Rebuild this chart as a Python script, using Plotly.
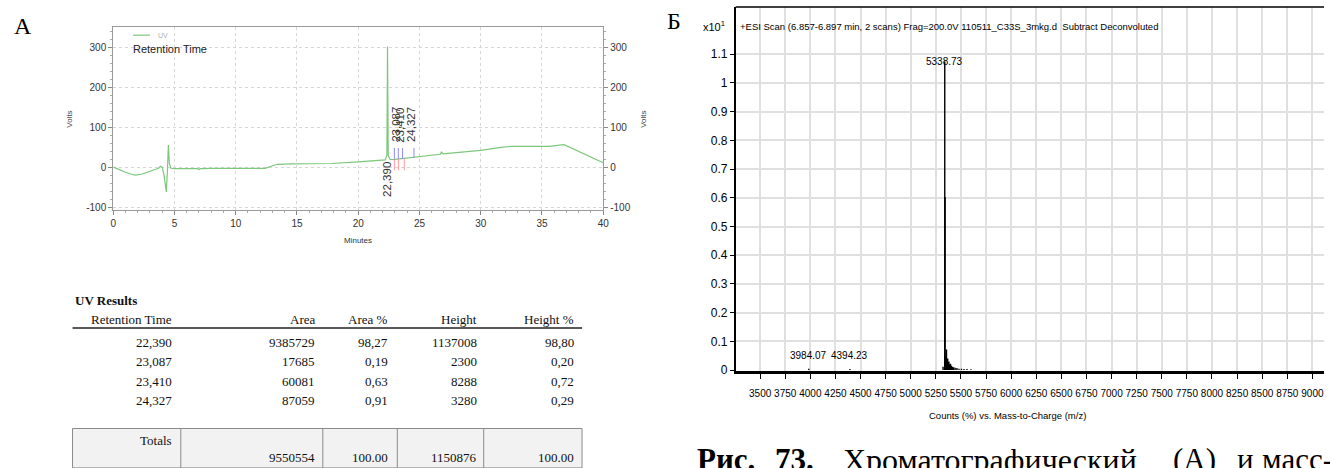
import plotly.graph_objects as go

W, H = 1330, 468


def fx(p):
    """pixel column -> paper x"""
    return p / W


def fy(p):
    """pixel row -> paper y"""
    return 1 - p / H


# ---------------- Panel A: UV chromatogram ----------------
uv_time = [0, 0.5, 1.0, 1.5, 1.8, 2.3, 2.8, 3.3, 3.7, 3.85,
           4.0, 4.15, 4.33, 4.42, 4.5, 4.58, 4.7, 5.0, 6.0, 6.9,
           7.0, 7.1, 8.0, 10.0, 12.4, 12.9, 13.4, 14.5, 16.0, 17.8,
           20.0, 21.5, 22.2, 22.34, 22.39, 22.45, 22.6, 23.0, 24.5, 26.0,
           26.7, 26.8, 26.9, 28.0, 30.0, 31.8, 32.6, 34.2, 35.6, 36.8,
           38.0, 39.0, 40.0]
uv_volts = [1, -6, -12, -17, -19, -17, -11, -6, -2, 3,
            0, -20, -61, -10, 56, 10, -2, -3, -3, -3,
            -5, -3, -2, -2, -2, 3, 8, 9, 9, 10,
            14, 17, 19, 30, 303, 30, 20, 20.5, 25, 30,
            33, 39, 34, 37, 43, 51, 53, 53, 53, 57,
            40, 26, 12]

peak_rt = [22.390, 23.087, 23.410, 24.327]
peak_rt_text = ["22,390", "23,087", "23,410", "24,327"]

# integration start (blue) / end (red) markers
start_rt = [22.95, 23.27, 23.62, 24.55]
start_base = [20, 20.5, 21, 24]
start_top = 49
end_rt = [22.95, 23.28, 23.76]
end_base = [20, 20.5, 21]
end_bottom = -7

# ---------------- UV results table ----------------
table_headers = ["Retention Time", "Area", "Area %", "Height", "Height %"]
rt_col = ["22,390", "23,087", "23,410", "24,327"]
area_col = ["9385729", "17685", "60081", "87059"]
area_pct_col = ["98,27", "0,19", "0,63", "0,91"]
height_col = ["1137008", "2300", "8288", "3280"]
height_pct_col = ["98,80", "0,20", "0,72", "0,29"]
totals_row = ["9550554", "100.00", "1150876", "100.00"]

# ---------------- Panel Б: deconvoluted mass spectrum ----------------
ms_mz = [3984.07, 4394.23, 5322, 5338.73, 5342, 5348, 5352, 5356, 5362, 5368,
         5374, 5380, 5388, 5396, 5405, 5415, 5428, 5442, 5460, 5480,
         5505, 5530, 5560, 5600]
ms_counts = [0.005, 0.004, 0.012, 1.075, 0.603, 0.05, 0.035, 0.072, 0.03, 0.04,
             0.028, 0.03, 0.02, 0.022, 0.015, 0.012, 0.01, 0.008, 0.007, 0.005,
             0.005, 0.004, 0.004, 0.003]
ms_labelled = [5338.73, 3984.07, 4394.23]
ms_yticks = [0, 0.1, 0.2, 0.3, 0.4, 0.5, 0.6, 0.7, 0.8, 0.9, 1.0, 1.1]
ms_ytick_text = ["0", "0.1", "0.2", "0.3", "0.4", "0.5", "0.6", "0.7", "0.8",
                 "0.9", "1", "1.1"]
ms_title = ("+ESI Scan (6.857-6.897 min, 2 scans) Frag=200.0V "
            "110511_C33S_3mkg.d\u00a0 Subtract Deconvoluted")

SANS = "Liberation Sans, Arial, sans-serif"
NARROW = "Liberation Sans Narrow, Arial Narrow, Liberation Sans, sans-serif"
SERIF = "Liberation Serif, Times New Roman, serif"
GREEN = "#7cc77c"

fig = go.Figure()

# chromatogram trace (left axis) and a copy on the right axis
fig.add_trace(go.Scatter(x=uv_time, y=uv_volts, mode="lines",
                         line=dict(color=GREEN, width=1.2),
                         xaxis="x", yaxis="y", hoverinfo="skip", showlegend=False))
fig.add_trace(go.Scatter(x=uv_time, y=uv_volts, mode="lines",
                         line=dict(color="rgba(0,0,0,0)", width=0),
                         xaxis="x", yaxis="y2", hoverinfo="skip", showlegend=False))

# integration markers
bx, by = [], []
for t, b in zip(start_rt, start_base):
    bx += [t, t, None]
    by += [b, start_top, None]
fig.add_trace(go.Scatter(x=bx, y=by, mode="lines", line=dict(color="#8c8cff", width=1),
                         xaxis="x", yaxis="y", hoverinfo="skip", showlegend=False))
rx, ry = [], []
for t, b in zip(end_rt, end_base):
    rx += [t, t, None]
    ry += [b, end_bottom, None]
fig.add_trace(go.Scatter(x=rx, y=ry, mode="lines", line=dict(color="#ff9a9a", width=1),
                         xaxis="x", yaxis="y", hoverinfo="skip", showlegend=False))

# mass spectrum sticks
sx, sy = [], []
for m, c in zip(ms_mz, ms_counts):
    sx += [m, m, None]
    sy += [0, c, None]
fig.add_trace(go.Scatter(x=sx, y=sy, mode="lines", line=dict(color="black", width=1.4),
                         xaxis="x2", yaxis="y3", hoverinfo="skip", showlegend=False))

annotations = []


def note(text, x, y, size, family=SANS, color="#222", xanchor="center",
         yanchor="middle", xref="paper", yref="paper", angle=0, **kw):
    annotations.append(dict(text=text, x=x, y=y, xref=xref, yref=yref,
                            xanchor=xanchor, yanchor=yanchor, showarrow=False,
                            textangle=angle, font=dict(family=family, size=size, color=color),
                            **kw))


# panel letters
note("A", fx(9), fy(26), 24, SERIF, "black", xanchor="left")
note("Б", fx(667), fy(21), 24, SERIF, "black", xanchor="left")

# chromatogram legend and labels
note("UV", fx(154), fy(35.7), 7, SANS, "#b0b0b0", xanchor="left")
note("Retention Time", fx(129), fy(50), 11, SANS, "#222", xanchor="left")
note("Minutes", fx(357.5), fy(244), 8, SANS, "#333")
note("Volts", fx(67), fy(121), 8, SANS, "#444", angle=-90)
note("Volts", fx(645), fy(121), 8, SANS, "#444", angle=-90)

for t, txt in zip(peak_rt, peak_rt_text):
    if txt == "22,390":
        note(txt, t, 19, 11.5, SANS, "#333", xref="x", yref="y", angle=-90,
             yanchor="top")
    else:
        note(txt, t, 58, 11.5, SANS, "#333", xref="x", yref="y", angle=-90,
             yanchor="bottom")

# table
note("<b>UV Results</b>", fx(70), fy(305), 13, SERIF, "#111", xanchor="left")
col_right = [172, 316, 390, 479, 577]
for cx, h in zip(col_right, table_headers):
    note(h, fx(cx), fy(324.5), 13, SERIF, "#111", xanchor="right")
row_y = [347.5, 367.2, 387, 406.8]
columns = [rt_col, area_col, area_pct_col, height_col, height_pct_col]
for cx, col in zip(col_right, columns):
    for ry_, val in zip(row_y, col):
        note(val, fx(cx), fy(ry_), 13, SERIF, "#111", xanchor="right")
note("Totals", fx(col_right[0]), fy(447), 13, SERIF, "#111", xanchor="right")
for cx, val in zip(col_right[1:], totals_row):
    note(val, fx(cx), fy(464), 13, SERIF, "#111", xanchor="right")

# mass spectrum texts
note("x10<sup>1</sup>", fx(703), fy(26), 11, NARROW, "black", xanchor="left")
note(ms_title, fx(740), fy(27), 9.5, NARROW, "black", xanchor="left")
for m in ms_labelled:
    c = ms_counts[ms_mz.index(m)]
    if m == 5338.73:
        note(f"{m:.2f}", m, c, 10, NARROW, "black", xref="x2", yref="y3")
    else:
        note(f"{m:.2f}", m, 0.05, 10, NARROW, "black", xref="x2", yref="y3")
note("Counts (%) vs. Mass-to-Charge (m/z)", fx(1011), fy(421.5), 9.5, NARROW, "black")

# figure caption (runs off the bottom edge)
cap_top = 447
note("<b>Рис.</b>", fx(697), fy(cap_top), 31, SERIF, "black", xanchor="left", yanchor="top")
note("<b>73.</b>", fx(775), fy(cap_top), 31, SERIF, "black", xanchor="left", yanchor="top")
note("Хроматографический", fx(844), fy(cap_top), 32, SERIF, "black", xanchor="left", yanchor="top")
note("(А)", fx(1176), fy(cap_top), 31, SERIF, "black", xanchor="left", yanchor="top")
note("и", fx(1240), fy(cap_top), 31, SERIF, "black", xanchor="left", yanchor="top")
note("масс-", fx(1266), fy(cap_top), 31, SERIF, "black", xanchor="left", yanchor="top")

shapes = [
    # legend line sample
    dict(type="line", xref="paper", yref="paper", x0=fx(131), x1=fx(148),
         y0=fy(35.7), y1=fy(35.7), line=dict(color=GREEN, width=1.2)),
    # header rule
    dict(type="line", xref="paper", yref="paper", x0=fx(70), x1=fx(583),
         y0=fy(333), y1=fy(333), line=dict(color="#222", width=1.6)),
    # totals box
    dict(type="rect", xref="paper", yref="paper", x0=fx(70), x1=fx(583),
         y0=fy(475), y1=fy(435), fillcolor="#f2f2f2", line=dict(color="#8a8a8a", width=1),
         layer="below"),
    # spectrum top frame
    dict(type="line", xref="paper", yref="paper", x0=fx(737.7), x1=1.0,
         y0=fy(7), y1=fy(7), line=dict(color="black", width=1.5)),
]
for dx in [179, 322, 397, 484]:
    shapes.append(dict(type="line", xref="paper", yref="paper", x0=fx(dx), x1=fx(dx),
                       y0=fy(475), y1=fy(435), line=dict(color="#8a8a8a", width=1)))

uv_ticks = [-100, 0, 100, 200, 300]
uv_tick_text = ["-100", "0", "100", "200", "300"]
tick_font = dict(family=SANS, size=10, color="#333")

fig.update_layout(
    width=W, height=H,
    margin=dict(l=0, r=0, t=0, b=0),
    paper_bgcolor="white", plot_bgcolor="white",
    showlegend=False,
    xaxis=dict(domain=[fx(111), fx(604.3)], range=[0, 40], anchor="y",
               tickvals=[0, 5, 10, 15, 20, 25, 30, 35, 40],
               ticks="outside", ticklen=4, tickcolor="#888",
               showline=True, linecolor="#999", linewidth=1, mirror=True,
               showgrid=True, gridcolor="#d6d6d6", griddash="dot", zeroline=False,
               tickfont=tick_font,
               minor=dict(ticks="outside", ticklen=2, dtick=1, tickcolor="#aaa",
                          showgrid=False)),
    yaxis=dict(domain=[fy(213), fy(27.7)], range=[-106, 351], anchor="x",
               tickvals=uv_ticks, ticktext=uv_tick_text,
               ticks="outside", ticklen=4, tickcolor="#888",
               showline=True, linecolor="#999", linewidth=1, mirror=True,
               showgrid=True, gridcolor="#d6d6d6", griddash="dot", zeroline=False,
               tickfont=tick_font,
               minor=dict(ticks="outside", ticklen=2, dtick=20, tickcolor="#aaa",
                          showgrid=False)),
    yaxis2=dict(overlaying="y", side="right", anchor="x", range=[-106, 351],
                tickvals=uv_ticks, ticktext=uv_tick_text,
                ticks="outside", ticklen=4, tickcolor="#888",
                showgrid=False, zeroline=False, showline=False, tickfont=tick_font,
                minor=dict(ticks="outside", ticklen=2, dtick=20, tickcolor="#aaa")),
    xaxis2=dict(domain=[fx(737.7), 1.0], range=[3256.7, 9115.7], anchor="y3",
                tick0=0, dtick=250, tickangle=0, ticks="outside", ticklen=5,
                tickcolor="black", ticklabelstandoff=6,
                showline=True, linecolor="black", linewidth=3,
                showgrid=True, gridcolor="#e0e0e0", gridwidth=1.5, zeroline=False,
                tickfont=dict(family=NARROW, size=10, color="black")),
    yaxis3=dict(domain=[fy(376.3), fy(7)], range=[-0.002, 1.265], anchor="x2",
                tickvals=ms_yticks, ticktext=ms_ytick_text,
                ticks="outside", ticklen=4, tickcolor="black",
                showline=True, linecolor="black", linewidth=1.5,
                showgrid=True, gridcolor="#e0e0e0", gridwidth=1.5, zeroline=False,
                tickfont=dict(family=NARROW, size=12, color="black")),
    annotations=annotations,
    shapes=shapes,
)

fig.write_html("out.html")
